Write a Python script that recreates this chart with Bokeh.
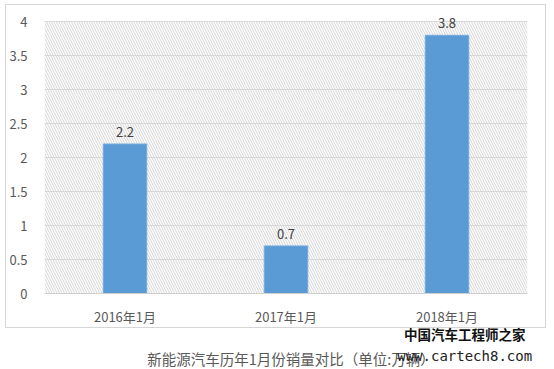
from bokeh.plotting import figure
from bokeh.layouts import column
from bokeh.models import BoxAnnotation, LabelSet, ColumnDataSource, FactorRange, FixedTicker, Range1d
from bokeh.core.properties import value
from bokeh.embed import file_html
from bokeh.resources import INLINE

categories = ["2016年1月", "2017年1月", "2018年1月"]
sales = [2.2, 0.7, 3.8]
value_labels = ["2.2", "0.7", "3.8"]
y_ticks = [0, 0.5, 1, 1.5, 2, 2.5, 3, 3.5, 4]
caption = "新能源汽车历年1月份销量对比（单位:万辆）"
watermark1 = "中国汽车工程师之家"
watermark2 = "www.cartech8.com"

FONT = "Noto Sans CJK SC"

src = ColumnDataSource(dict(cat=categories, v=sales, lab=value_labels))

# chart inside a bordered box (box spans page x 5..546, y 4..328)
p = figure(width=541, height=324, x_range=FactorRange(*categories), y_range=(0, 4.15),
           output_backend="svg", toolbar_location=None,
           margin=(4, 0, 0, 5), styles={"border": "1px solid #d6d6d6"},
           min_border_left=38, min_border_right=20, min_border_top=6, min_border_bottom=36)
p.x_range.range_padding = 0
p.outline_line_color = None
p.background_fill_color = "white"
p.border_fill_color = "white"

# hatched plot background up to the top gridline
p.add_layout(BoxAnnotation(top=4, fill_alpha=0, line_color=None, hatch_pattern="\\",
                           hatch_color="#d4d4d4", hatch_scale=5, hatch_weight=1,
                           level="underlay"))

p.xgrid.grid_line_color = None
p.ygrid.grid_line_color = "#d9d9d9"
p.ygrid.grid_line_width = 1

p.yaxis.ticker = FixedTicker(ticks=y_ticks)
p.yaxis.axis_line_color = None
p.yaxis.major_tick_line_color = None
p.yaxis.minor_tick_line_color = None
p.yaxis.major_label_text_color = "#595959"
p.yaxis.major_label_text_font = FONT
p.yaxis.major_label_text_font_size = "13px"
p.yaxis.major_label_standoff = 11

p.xaxis.axis_line_color = "#d0d0d0"
p.xaxis.major_tick_line_color = None
p.xaxis.minor_tick_line_color = None
p.xaxis.major_label_text_color = "#595959"
p.xaxis.major_label_text_font = FONT
p.xaxis.major_label_text_font_size = "13px"
p.xaxis.major_label_standoff = 7

p.vbar(x="cat", top="v", width=0.27, source=src, fill_color="#5b9bd5",
       line_color="#74aadd", line_width=1)
p.add_layout(LabelSet(x="cat", y="v", text="lab", source=src, y_offset=7, text_align="center",
                      text_baseline="bottom", text_font=value(FONT), text_font_size=value("13px"),
                      text_color=value("#404040")))

# caption strip below the box (coordinates in page pixels)
q = figure(width=554, height=51, x_range=Range1d(0, 554), y_range=Range1d(369, 318),
           output_backend="svg", toolbar_location=None, margin=(-10, 0, 0, 0),
           min_border=0, min_border_left=0, min_border_right=0, min_border_top=0, min_border_bottom=0)
q.axis.visible = False
q.grid.visible = False
q.outline_line_color = None
q.background_fill_color = None
q.border_fill_color = None

q.text(x=[282], y=[358], text=[caption], text_align="center", text_baseline="middle",
       text_font=value(FONT), text_font_size="14.5px", text_color="#595959")
q.text(x=[476], y=[333], text=[watermark1], text_align="center", text_baseline="middle",
       text_font=value(FONT), text_font_size="13.5px", text_font_style="bold", text_color="#111111")
q.text(x=[476], y=[355], text=[watermark2], text_align="center", text_baseline="middle",
       text_font=value("DejaVu Sans Mono"), text_font_size="14px", text_color="#222222")

layout = column(p, q, spacing=0)
open("out.html", "w").write(file_html(layout, INLINE))
